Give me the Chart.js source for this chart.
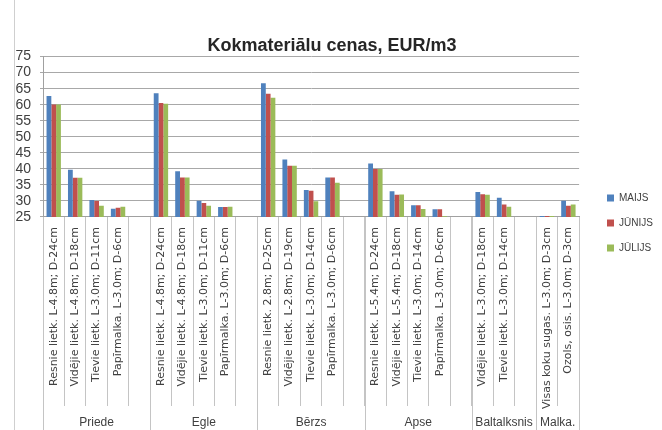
<!DOCTYPE html>
<html>
<head>
<meta charset="utf-8">
<script src="https://cdn.jsdelivr.net/npm/chart.js@4.4.0/dist/chart.umd.min.js"></script>
<style>
  html, body { margin: 0; padding: 0; background: #ffffff; }
  #wrap { width: 662px; height: 430px; position: relative; }
</style>
</head>
<body>
<div id="wrap"><canvas id="c" width="662" height="430"></canvas></div>
<script>
// ---- data ----
const categories = [
  'Resnie lietk. L-4.8m; D-24cm', 'Vidējie lietk. L-4.8m; D-18cm', 'Tievie lietk. L-3.0m; D-11cm', 'Papīrmalka. L-3.0m; D-6cm', '',
  'Resnie lietk. L-4.8m; D-24cm', 'Vidējie lietk. L-4.8m; D-18cm', 'Tievie lietk. L-3.0m; D-11cm', 'Papīrmalka. L-3.0m; D-6cm', '',
  'Resnie lietk. 2.8m; D-25cm', 'Vidējie lietk. L-2.8m; D-19cm', 'Tievie lietk. L-3.0m; D-14cm', 'Papīrmalka. L-3.0m; D-6cm', '',
  'Resnie lietk. L-5.4m; D-24cm', 'Vidējie lietk. L-5.4m; D-18cm', 'Tievie lietk. L-3.0m; D-14cm', 'Papīrmalka. L-3.0m; D-6cm', '',
  'Vidējie lietk. L-3.0m; D-18cm', 'Tievie lietk. L-3.0m; D-14cm', '',
  'Visas koku sugas. L-3.0m; D-3cm', 'Ozols, osis. L-3.0m; D-3cm'
];
const groupNames = ['Priede', 'Egle', 'Bērzs', 'Apse', 'Baltalksnis', 'Malka.'];
const groupSizes = [5, 5, 5, 5, 3, 2];

const seriesNames = ['MAIJS', 'JŪNIJS', 'JŪLIJS'];
const maijs  = [62.7, 39.7, 30.3, 27.6, null, 63.6, 39.3, 30.1, 28.1, null, 66.7, 42.9, 33.4, 37.3, null, 41.7, 33.0, 28.7, 27.4, null, 32.8, 31.0, null, 25.3, 30.1];
const junijs = [60.1, 37.2, 30.0, 27.9, null, 60.5, 37.3, 29.4, 28.1, null, 63.4, 41.0, 33.2, 37.3, null, 40.0, 31.9, 28.7, 27.4, null, 32.1, 28.9, null, 25.3, 28.5];
const julijs = [60.1, 37.2, 28.5, 28.2, null, 60.3, 37.3, 28.5, 28.2, null, 62.2, 41.0, 29.9, 35.7, null, 40.0, 32.0, 27.5, 25.2, null, 31.9, 28.2, null, 25.3, 28.9];

const yMin = 25, yMax = 75, yStep = 5;
const colors = ['#4F81BD', '#C0504D', '#9BBB59'];

// ---- plugins ----
const framePlugin = {
  id: 'frame',
  beforeDraw(chart) {
    const ctx = chart.ctx;
    ctx.save();
    ctx.strokeStyle = '#cfcfcf';
    ctx.lineWidth = 1;
    ctx.beginPath();
    ctx.moveTo(14.5, 0);
    ctx.lineTo(14.5, chart.height);
    ctx.stroke();
    ctx.restore();
  }
};

const groupPlugin = {
  id: 'groups',
  afterDraw(chart) {
    const xs = chart.scales.x;
    const ctx = chart.ctx;
    const half = (xs.getPixelForValue(1) - xs.getPixelForValue(0)) / 2;
    ctx.save();
    ctx.strokeStyle = '#c4c4c4';
    ctx.lineWidth = 1;
    ctx.fillStyle = '#404040';
    ctx.font = '12px "Liberation Sans", Arial, sans-serif';
    ctx.textAlign = 'center';
    ctx.textBaseline = 'middle';
    let start = 0;
    const drawLine = (px) => {
      const x = Math.round(px) + 0.5;
      ctx.beginPath();
      ctx.moveTo(x, xs.top);
      ctx.lineTo(x, chart.height);
      ctx.stroke();
    };
    groupNames.forEach((name, gi) => {
      const l = xs.getPixelForValue(start) - half;
      const r = xs.getPixelForValue(start + groupSizes[gi] - 1) + half;
      drawLine(l);
      if (gi === groupNames.length - 1) drawLine(r);
      ctx.fillText(name, (l + r) / 2, 423);
      start += groupSizes[gi];
    });
    ctx.restore();
  }
};

const legendPlace = {
  id: 'legendPlace',
  afterLayout(chart) {
    const lg = chart.legend;
    if (!lg) return;
    const w = lg.width, h = lg.height;
    const pad = lg.options.labels.padding;
    lg.left = 607 - pad;
    lg.right = lg.left + w;
    lg.top = 178;
    lg.bottom = lg.top + Math.max(h, 100);
  }
};

// ---- chart ----
new Chart(document.getElementById('c'), {
  type: 'bar',
  data: {
    labels: categories,
    datasets: [
      { label: seriesNames[0], data: maijs,  backgroundColor: colors[0], borderWidth: 0 },
      { label: seriesNames[1], data: junijs, backgroundColor: colors[1], borderWidth: 0 },
      { label: seriesNames[2], data: julijs, backgroundColor: colors[2], borderWidth: 0 }
    ]
  },
  options: {
    responsive: false,
    animation: false,
    devicePixelRatio: 1,
    layout: { padding: { left: 14, right: 12, top: 0, bottom: 0 } },
    datasets: { bar: { categoryPercentage: 0.67, barPercentage: 1.0 } },
    plugins: {
      title: {
        display: true,
        text: 'Kokmateriālu cenas, EUR/m3',
        color: '#262626',
        font: { family: '"Liberation Sans", Arial, sans-serif', size: 18, weight: 'bold' },
        padding: { top: 35, bottom: 0 }
      },
      legend: {
        display: true,
        position: 'right',
        align: 'start',
        labels: {
          boxWidth: 7,
          boxHeight: 7,
          padding: 15,
          color: '#404040',
          font: { family: '"Liberation Sans", Arial, sans-serif', size: 10 }
        }
      },
      tooltip: { enabled: false }
    },
    scales: {
      x: {
        grid: { display: true, drawOnChartArea: false, drawTicks: true, tickLength: 189, color: '#c4c4c4', offset: true },
        border: { display: true, color: '#a0a0a0' },
        ticks: {
          autoSkip: false, minRotation: 90, maxRotation: 90, padding: -179,
          color: '#404040',
          font: { family: '"DejaVu Sans", sans-serif', size: 11 }
        },
        afterFit(s) { s.height = 213; }
      },
      y: {
        min: yMin, max: yMax,
        ticks: { stepSize: yStep, autoSkip: false, padding: 9, color: '#404040', font: { family: '"Liberation Sans", Arial, sans-serif', size: 14 } },
        grid: { color: '#a8a8a8', tickLength: 3, drawTicks: true },
        border: { display: true, color: '#a0a0a0' },
        afterFit(s) { s.width = 29; }
      }
    }
  },
  plugins: [framePlugin, groupPlugin, legendPlace]
});
</script>
</body>
</html>
